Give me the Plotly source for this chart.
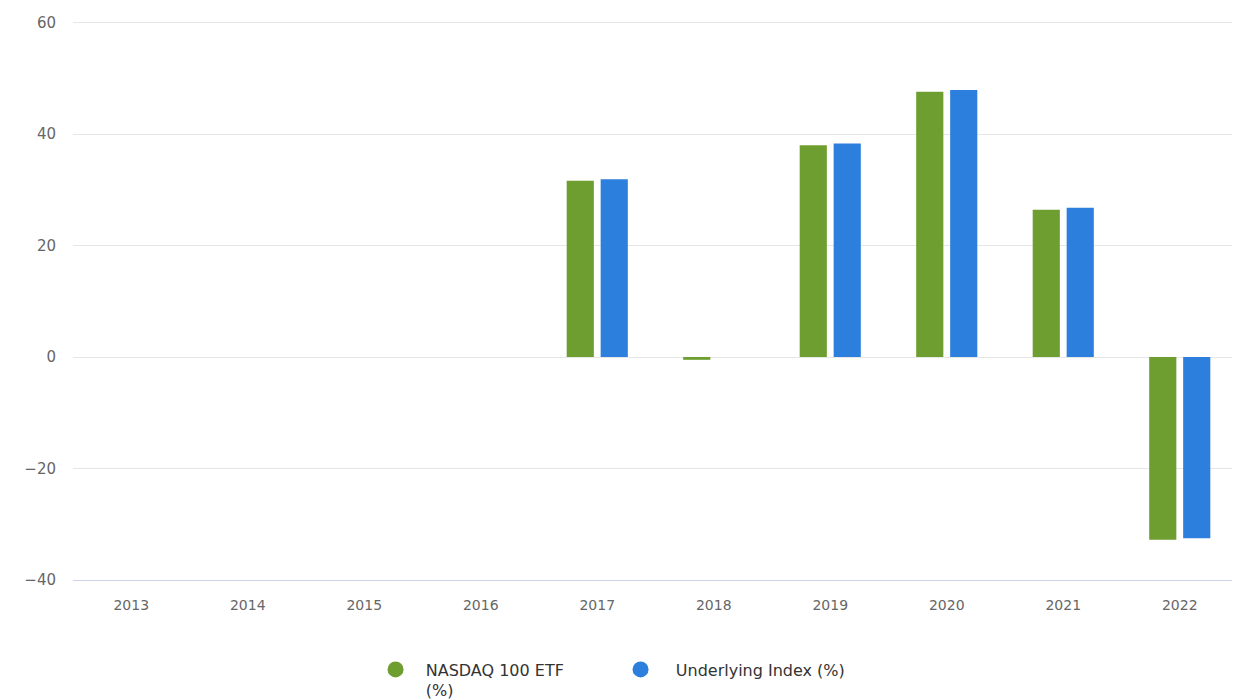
import plotly.graph_objects as go

years = ["2013", "2014", "2015", "2016", "2017", "2018", "2019", "2020", "2021", "2022"]
etf_values = [None, None, None, None, 31.6, -0.5, 38.0, 47.6, 26.4, -32.8]
index_values = [None, None, None, None, 31.9, 0.0, 38.3, 47.9, 26.8, -32.5]
series_names = ["NASDAQ 100 ETF<br>(%)", "Underlying Index (%)"]
colors = ["#6f9e30", "#2c7fdc"]
y_ticks = [-40, -20, 0, 20, 40, 60]

fig = go.Figure()
for vals, name, col in zip([etf_values, index_values], series_names, colors):
    fig.add_trace(go.Bar(x=years, y=vals, name=name, marker=dict(color=col, line=dict(width=0)),
                         showlegend=False))
for i, (name, col) in enumerate(zip(series_names, colors)):
    pad = "\u00a0" * (2 + i)
    label = "<br>".join(pad + part for part in name.split("<br>"))
    fig.add_trace(go.Scatter(x=[years[0]], y=[None], mode="markers", name=label,
                             marker=dict(color=col, size=16, symbol="circle"), showlegend=True))

# top gridline (plotly omits the gridline at the plot edge)
fig.add_shape(type="line", xref="paper", yref="y", x0=0, x1=1, y0=y_ticks[-1], y1=y_ticks[-1],
              line=dict(color="#e6e6e6", width=1), layer="below")

fig.update_layout(
    width=1240, height=699,
    margin=dict(l=65, r=10, t=14, b=127, autoexpand=False),
    paper_bgcolor="white", plot_bgcolor="white",
    barmode="group", bargap=0.417, bargroupgap=0.2,
    font=dict(family="DejaVu Sans, sans-serif", color="#666666", size=14),
    showlegend=True,
    legend=dict(orientation="h", x=0.47, xanchor="center", y=-0.13, yanchor="top",
                font=dict(size=16, color="#333333"), valign="top", itemsizing="trace",
                traceorder="normal", entrywidth=200, entrywidthmode="pixels"),
    xaxis=dict(type="category", categoryorder="array", categoryarray=years,
               showgrid=False, showline=True, linecolor="#ccd6eb", linewidth=1,
               ticks="", tickfont=dict(size=14, color="#666666"), ticklabelstandoff=12,
               range=[-0.5, 9.5], automargin=False),
    yaxis=dict(range=[-40, 60.1], tickvals=y_ticks, showgrid=True, gridcolor="#e6e6e6",
               gridwidth=1, zeroline=False, showline=False, ticks="",
               tickfont=dict(size=15, color="#666666"), ticklabelstandoff=16,
               automargin=False),
)

fig.write_html("out.html")
